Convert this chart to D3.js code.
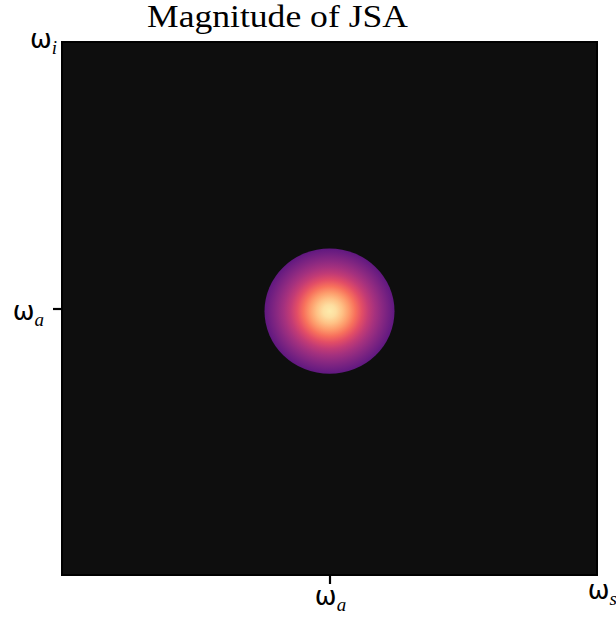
<!DOCTYPE html>
<html>
<head>
<meta charset="utf-8">
<script src="https://cdn.jsdelivr.net/npm/d3@7"></script>
<style>
  body { margin: 0; background: #fff; }
</style>
</head>
<body>
<script>
const w = 616;
const h = 617;

// JSA parameters (signal / idler frequency, centred on omega_a)
const domainS = [-1, 1];
const domainI = [-1, 1];
const blobCenter = [0, -0.01];
const blobRadius = [0.243, 0.235];

// radial magnitude samples (r / R -> |JSA|)
const radialPos = [0, 0.1, 0.2, 0.3, 0.4, 0.5, 0.6, 0.7, 0.8, 0.9, 1.0];
const radialMag = [0.96, 0.93, 0.87, 0.79, 0.7, 0.61, 0.53, 0.46, 0.4, 0.34, 0.29];

// tick labels
const tickValues = [0];
const tickSub = "a";

const margin = { left: 62, right: 19, top: 42, bottom: 42 };

const x = d3.scaleLinear().domain(domainS).range([margin.left, w - margin.right]);
const y = d3.scaleLinear().domain(domainI).range([h - margin.bottom, margin.top]);

const svg = d3.select("body").append("svg")
  .attr("width", w)
  .attr("height", h);

// gradient for the blob
const defs = svg.append("defs");
const grad = defs.append("radialGradient")
  .attr("id", "jsa")
  .attr("cx", "50%").attr("cy", "50%").attr("r", "50%");
grad.selectAll("stop")
  .data(radialPos)
  .enter()
  .append("stop")
  .attr("offset", (d) => d * 100 + "%")
  .attr("stop-color", (d, i) => d3.interpolateMagma(radialMag[i]));

// plot background
svg.append("rect")
  .attr("x", x(domainS[0]))
  .attr("y", y(domainI[1]))
  .attr("width", x(domainS[1]) - x(domainS[0]))
  .attr("height", y(domainI[0]) - y(domainI[1]))
  .attr("fill", "#0e0e0e");

svg.append("ellipse")
  .attr("cx", x(blobCenter[0]))
  .attr("cy", y(blobCenter[1]))
  .attr("rx", x(blobCenter[0] + blobRadius[0]) - x(blobCenter[0]))
  .attr("ry", y(blobCenter[1]) - y(blobCenter[1] + blobRadius[1]))
  .attr("fill", "url(#jsa)");

// frame
svg.append("rect")
  .attr("x", x(domainS[0]))
  .attr("y", y(domainI[1]))
  .attr("width", x(domainS[1]) - x(domainS[0]))
  .attr("height", y(domainI[0]) - y(domainI[1]))
  .attr("fill", "none")
  .attr("stroke", "#000")
  .attr("stroke-width", 2);

// axes with single tick
const xAxis = svg.append("g")
  .attr("transform", `translate(0,${y(domainI[0])})`)
  .call(d3.axisBottom(x).tickValues(tickValues).tickSize(9).tickFormat(""));
const yAxis = svg.append("g")
  .attr("transform", `translate(${x(domainS[0])},0)`)
  .call(d3.axisLeft(y).tickValues(tickValues).tickSize(9).tickFormat(""));
[xAxis, yAxis].forEach((g) => {
  g.select(".domain").remove();
  g.selectAll(".tick line").attr("stroke", "#000").attr("stroke-width", 2.2);
});

// omega label helper
function omega(px, py, sub, anchor) {
  const t = svg.append("text")
    .attr("x", px)
    .attr("y", py)
    .attr("text-anchor", anchor)
    .attr("font-family", "DejaVu Sans")
    .attr("font-size", 26)
    .attr("fill", "#000");
  t.append("tspan").text("ω");
  t.append("tspan")
    .attr("font-family", "Liberation Serif")
    .attr("font-style", "italic")
    .attr("font-size", 19)
    .attr("dy", 6)
    .text(sub);
}

omega(x(tickValues[0]) + 1, h - 12, tickSub, "middle");
omega(x(domainS[0]) - 18, y(tickValues[0]) + 11, tickSub, "end");
omega(x(domainS[0]) - 5, y(domainI[1]) + 6, "i", "end");
omega(w + 1, h - 18, "s", "end");

// title
svg.append("text")
  .attr("x", 147)
  .attr("y", 27)
  .attr("textLength", 261)
  .attr("lengthAdjust", "spacingAndGlyphs")
  .attr("font-family", "Liberation Serif")
  .attr("font-size", 31)
  .attr("fill", "#000")
  .text("Magnitude of JSA");
</script>
</body>
</html>
